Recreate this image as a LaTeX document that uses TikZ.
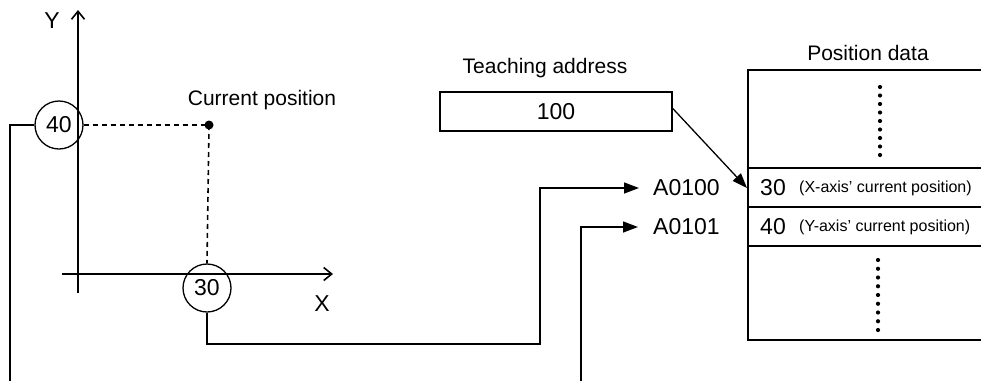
\documentclass[tikz,border=0pt]{standalone}
\usepackage{fontspec}
\setmainfont{Liberation Sans}
\usetikzlibrary{arrows.meta}
\begin{document}
\begin{tikzpicture}[x=1pt,y=-1pt,
  ln/.style={line width=1.6pt},
  thin/.style={line width=1.3pt},
  axis/.style={ln,-{Straight Barb[length=8pt,width=13pt,line width=1.6pt]}},
  arr/.style={thin,-{Triangle[length=15pt,width=11pt]}},
  dsh/.style={ln,dash pattern=on 5pt off 4pt},
  big/.style={font=\fontsize{23}{26}\selectfont},
  mid/.style={font=\fontsize{21}{24}\selectfont},
  small/.style={font=\fontsize{16}{18}\selectfont},
  ring/.style={circle,draw,thin,minimum size=48pt,inner sep=0pt,big},
  dotpt/.style={circle,fill,inner sep=0pt,minimum size=4.2pt}]
\useasboundingbox (0,0) rectangle (981,381);
% axes
\coordinate (yb) at (78,293);
\coordinate (yt) at (78,10);
\coordinate (xl) at (62,274);
\coordinate (xr) at (333,274);
\draw[axis] (yb) -- (yt);
\draw[axis] (xl) -- (xr);
\node[big] (ylab) at (52,21) {Y};
\node[big] (xlab) at (322,304) {X};
% circles and point
\node[ring] (c40) at (59,125) {40};
\node[ring] (c30) at (207,288) {30};
\node[circle,fill,inner sep=0pt,minimum size=9pt] (cur) at (209,125) {};
\node[mid] (curlab) at (262,100) {Current position};
\draw[dsh] (c40.east) -- (cur.center);
\draw[dsh] (cur.center) -- (c30.north);
% teaching address
\node[mid] (teachlab) at (545,68) {Teaching address};
\node[draw,ln,minimum width=232pt,minimum height=39pt,inner sep=0pt,big] (box) at (556,111.5) {100};
% addresses
\node[big,anchor=west,inner sep=0pt] (a0100) at (653,188) {A0100};
\node[big,anchor=west,inner sep=0pt] (a0101) at (653,227) {A0101};
% position data table
\node[mid] (pdlab) at (868,53) {Position data};
\draw[ln] (981,70) -- (748,70) -- (748,340) -- (981,340);
\draw[ln] (748,168) -- (981,168);
\draw[ln] (748,207) -- (981,207);
\draw[ln] (748,246) -- (981,246);
\node[big,anchor=west,inner sep=0pt] (v30) at (760,188) {30};
\node[small,anchor=west,inner sep=0pt] (t30) at (799,188) {(X-axis’ current position)};
\node[big,anchor=west,inner sep=0pt] (v40) at (760,227) {40};
\node[small,anchor=west,inner sep=0pt] (t40) at (799,227) {(Y-axis’ current position)};
\foreach \i in {0,...,8} {
  \node[dotpt] (du\i) at (880,87+8.5*\i) {};
  \node[dotpt] (dl\i) at (878,260+8.75*\i) {};
}
\coordinate (cell30) at (747,188);
% connectors
\coordinate (b1) at (10,381);
\coordinate (j1) at (540,344);
\coordinate (b2) at (581,381);
\draw[ln] (c40.west) -| (b1);
\draw[arr] (c30.south) |- (j1) |- ([xshift=-14pt]a0100.west);
\draw[arr] (b2) |- ([xshift=-15pt]a0101.west);
\draw[arr] ([yshift=3pt]box.east) -- (cell30);
\end{tikzpicture}
\end{document}
